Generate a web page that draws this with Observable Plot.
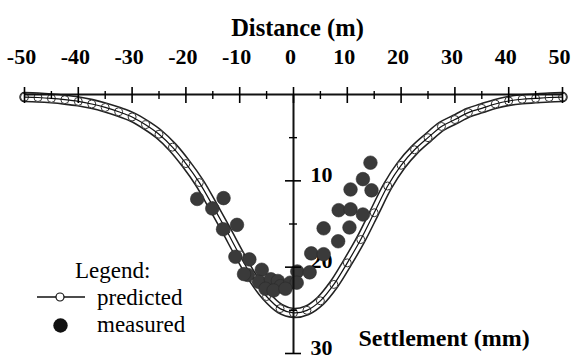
<!DOCTYPE html>
<html><head><meta charset="utf-8">
<script src="https://cdn.jsdelivr.net/npm/d3@7"></script>
<script src="https://cdn.jsdelivr.net/npm/@observablehq/plot@0.6"></script>
<style>
body{margin:0;background:#fff;}
#wrap{position:relative;width:571px;height:359px;}
#wrap svg{position:absolute;left:0;top:0;}
#wrap svg text{font-family:"Liberation Serif", serif;}
</style></head><body><div id="wrap"></div>
<script>
// Predicted settlement trough (distance m, settlement mm)
const predDist = [-50,-47.5,-45,-42.5,-40,-37.5,-35,-32.5,-30,-27.5,-25,-22.5,-20,-17.5,-15,-12.5,-10,-7.5,-5,-2.5,0,
  2.5,5,7.5,10,12.5,15,17.5,20,22.5,25,27.5,30,32.5,35,37.5,40,42.5,45,47.5,50];
const predSettle = [0.3,0.35,0.45,0.6,0.8,1.1,1.5,2.0,2.6,3.5,4.6,6.1,8.0,10.2,12.9,15.7,18.6,21.3,23.4,24.8,25.3,
  25.0,23.9,22.0,19.5,16.8,13.7,10.6,8.2,6.4,5.0,3.7,2.9,2.1,1.6,1.1,0.75,0.55,0.45,0.35,0.3];
// Measured settlements
const measDist = [-17.9,-13.0,-15.1,-13.1,-10.5,-10.8,-8.2,-8.5,-5.9,-6.4,-4.2,-2.9,-2.4,-0.6,0.7,0.6,3.0,3.3,5.6,5.6,8.3,8.4,10.6,12.9,10.4,10.6,12.9,14.5,14.3,-5.2,-9.2,-3.7,-1.5];
const measSettle = [12.1,12.0,13.2,15.6,15.1,18.8,19.1,20.9,20.3,21.7,21.4,21.6,22.2,21.8,20.5,21.8,20.6,18.4,18.5,15.5,17.0,13.4,13.3,13.9,15.4,11.0,9.8,11.1,7.9,22.5,20.8,22.7,22.5];
// Ticks
const xMajor = [-50,-40,-30,-20,-10,0,10,20,30,40,50];
const xMinor = [-45,-35,-25,-15,-5,5,15,25,35,45];
const yMajor = [10,20,30];
const yMinor = [5,15,25];

const pred = predDist.map((d,i)=>({d, s: predSettle[i]}));
const meas = measDist.map((d,i)=>({d, s: measSettle[i]}));

const chart = Plot.plot({
  width: 571, height: 359,
  marginLeft: 24, marginRight: 9, marginTop: 94, marginBottom: 6,
  style: {background: "white", color: "black", fontFamily: "Liberation Serif, serif"},
  x: {domain: [-50, 50], axis: null},
  y: {domain: [0, 30], reverse: true, axis: null},
  marks: [
    // predicted band
    Plot.line(pred, {x: "d", y: "s", stroke: "#222", strokeWidth: 10.5, strokeLinecap: "round", curve: "catmull-rom"}),
    Plot.line(pred, {x: "d", y: "s", stroke: "white", strokeWidth: 7.4, strokeLinecap: "round", curve: "catmull-rom"}),
    Plot.dot(pred, {x: "d", y: "s", r: 4, stroke: "#333", fill: "white", strokeWidth: 1}),
    Plot.line(pred, {x: "d", y: "s", stroke: "#111", strokeWidth: 1.2, curve: "catmull-rom"}),
    // y tick labels (under the dots)
    Plot.axisY({x: 0, anchor: "right", ticks: yMajor, tickSize: 0, tickPadding: 17, dy: -6,
      fontSize: 22, fontWeight: "bold", label: null, tickFormat: d => String(d)}),
    // measured
    Plot.dot(meas, {x: "d", y: "s", r: 6.8, fill: "#3a3a3a", stroke: "#2a2a2a", strokeWidth: 0.6}),
    // axes lines
    Plot.ruleY([0], {stroke: "#111", strokeWidth: 2}),
    Plot.ruleX([0], {y1: 0, y2: 30, stroke: "#111", strokeWidth: 2}),
    // x ticks
    Plot.axisX({anchor: "top", ticks: xMajor, tickSize: 16, dy: 8, fill: "none", strokeWidth: 1.6, label: null}),
    Plot.axisX({anchor: "top", ticks: xMinor, tickSize: 8, dy: 4, fill: "none", strokeWidth: 1.4, label: null}),
    Plot.axisX({anchor: "top", ticks: xMajor, tickSize: 0, tickPadding: 31, dx: -3, fontSize: 22, fontWeight: "bold",
      label: null, tickFormat: d => String(d)}),
    // y ticks
    Plot.axisY({x: 0, anchor: "left", ticks: yMajor, tickSize: 16, dx: 8, fill: "none", strokeWidth: 1.6, label: null}),
    Plot.axisY({x: 0, anchor: "left", ticks: yMinor, tickSize: 8, dx: 4, fill: "none", strokeWidth: 1.4, label: null}),
    // axis titles
    Plot.text(["Distance (m)"], {frameAnchor: "top", dx: 4, dy: -76, fontSize: 24.5, fontWeight: "bold", fill: "black"}),
    Plot.text(["Settlement (mm)"], {frameAnchor: "bottom-left", textAnchor: "start", lineAnchor: "bottom", dx: 334, dy: -8, fontSize: 24, fontWeight: "bold", fill: "black"})
  ]
});
const wrap = document.getElementById("wrap");
wrap.appendChild(chart);

// Legend overlay
const ns = "http://www.w3.org/2000/svg";
const lg = document.createElementNS(ns, "svg");
lg.setAttribute("width", 571); lg.setAttribute("height", 359);
lg.setAttribute("style", "pointer-events:none");
lg.innerHTML = `
<g font-size="23" fill="black">
  <text x="75" y="278">Legend:</text>
  <line x1="37" x2="85" y1="297" y2="297" stroke="#111" stroke-width="1.6"/>
  <circle cx="60" cy="297" r="4" fill="white" stroke="#111" stroke-width="1.2"/>
  <text x="97" y="305">predicted</text>
  <circle cx="60.5" cy="325.5" r="7.2" fill="#111"/>
  <text x="97" y="332">measured</text>
</g>`;
wrap.appendChild(lg);
</script>
</body></html>
